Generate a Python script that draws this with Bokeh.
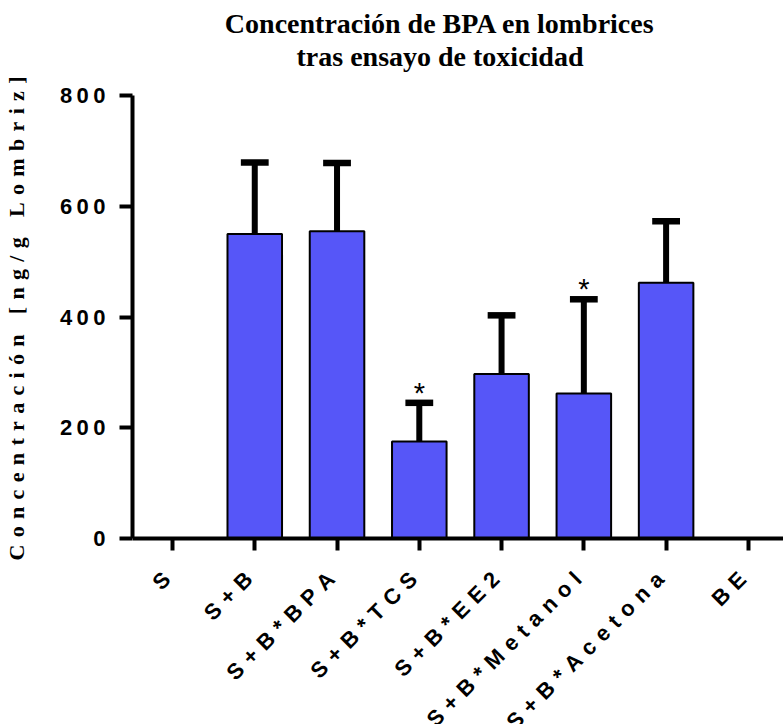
import math
from bokeh.plotting import figure
from bokeh.models import Range1d, FixedTicker, ColumnDataSource
from bokeh.embed import file_html
from bokeh.resources import INLINE
from bokeh.core.properties import value

# ---------------- data ----------------
categories = ["S", "S+B", "S+B*BPA", "S+B*TCS", "S+B*EE2", "S+B*Metanol", "S+B*Acetona", "BE"]
means = [None, 550, 555, 175, 297, 262, 462, None]
sd = [None, 129, 123, 70, 106, 170, 111, None]
significant = [False, False, False, True, False, True, False, False]
y_ticks = [0, 200, 400, 600, 800]
title_lines = ["Concentración de BPA en lombrices", "tras ensayo de toxicidad"]
y_label = "Concentración [ng/g Lombriz]"

BAR_COLOR = "#5656F8"
Y_MAX = 800


def spaced(s, gap):
    return gap.join(list(s))


xs = list(range(len(categories)))
bx = [x for x, m in zip(xs, means) if m is not None]
bm = [m for m in means if m is not None]
bs = [s for s in sd if s is not None]
bu = [m + s for m, s in zip(bm, bs)]

# frame spans the whole canvas height; x axis drawn at y=0 with fixed_location
PX_PER_UNIT = 443 / 800.0
y_end = Y_MAX + 95 / PX_PER_UNIT
y_start = -(724 - 538) / PX_PER_UNIT
x_start = (127 - 167.3) / 82.9
x_end = (783 - 167.3) / 82.9

p = figure(width=783, height=724, title=None,
           x_range=Range1d(x_start, x_end), y_range=Range1d(y_start, y_end),
           output_backend="svg", toolbar_location=None,
           min_border_left=127, min_border_right=0,
           min_border_top=0, min_border_bottom=0)
p.outline_line_color = None
p.xgrid.visible = False
p.ygrid.visible = False

src = ColumnDataSource(dict(x=bx, top=bm, upper=bu))
p.segment(x0="x", y0="top", x1="x", y1="upper", source=src,
          line_color="black", line_width=6)
cap_half = 0.169
p.segment(x0=[x - cap_half for x in bx], y0=bu, x1=[x + cap_half for x in bx], y1=bu,
          line_color="black", line_width=6.5)
p.vbar(x="x", top="top", width=0.663, bottom=0, source=src,
       fill_color=BAR_COLOR, line_color="black", line_width=2)

# significance stars
sx = [x for x, s in zip(xs, significant) if s]
sy = [means[i] + sd[i] for i in sx]
star_src = ColumnDataSource(dict(x=sx, y=sy, t=["*"] * len(sx)))
p.text(x="x", y="y", text="t", source=star_src, text_align="center",
       text_baseline="alphabetic", y_offset=-10,
       text_font=value("Liberation Sans"), text_font_size="29px", text_color="black")

# x axis at y = 0 (its own labels are replaced by the rotated labels below)
xa = p.xaxis[0]
xa.fixed_location = 0
xa.ticker = FixedTicker(ticks=xs)
xa.major_label_text_font_size = "0px"
xa.major_label_text_color = None
xa.axis_line_width = 4
xa.axis_line_color = "black"
xa.major_tick_line_width = 4
xa.major_tick_line_color = "black"
xa.major_tick_out = 12
xa.major_tick_in = 0
xa.minor_tick_out = 0
xa.minor_tick_in = 0

# category labels (rotated 45 degrees, ending under each tick)
lab_src = ColumnDataSource(dict(x=xs, y=[0] * len(xs),
                                t=[spaced(c, "\u2004") for c in categories]))
p.text(x="x", y="y", text="t", source=lab_src, angle=math.pi / 4,
       text_align="right", text_baseline="middle", x_offset=-6, y_offset=37,
       text_font=value("Liberation Sans"), text_font_style="bold",
       text_font_size="22px", text_color="black")

# title
t_src = ColumnDataSource(dict(x=[(x_start + x_end) / 2] * 2, y=[Y_MAX] * 2, t=title_lines,
                              dy=[-72, -39]))
p.text(x="x", y="y", text="t", source=t_src, y_offset="dy", x_offset=-18,
       text_align="center", text_baseline="alphabetic",
       text_font=value("Liberation Serif"), text_font_style="bold",
       text_font_size="28px", text_color="black")

# y axis
ya = p.yaxis[0]
ya.bounds = (0, Y_MAX)
ya.ticker = FixedTicker(ticks=y_ticks)
ya.major_label_overrides = {t: spaced(str(t), "\u2009") for t in y_ticks}
ya.major_label_text_font = "Liberation Sans"
ya.major_label_text_font_style = "bold"
ya.major_label_text_font_size = "22px"
ya.major_label_text_color = "black"
ya.major_label_standoff = 14
ya.axis_line_width = 4
ya.axis_line_color = "black"
ya.major_tick_line_width = 4
ya.major_tick_line_color = "black"
ya.major_tick_out = 13
ya.major_tick_in = 0
ya.minor_tick_out = 0
ya.minor_tick_in = 0
# leading em spaces lift the label so it is centred on the 0-800 part of the axis
ya.axis_label = "\u2003" * 4 + spaced(y_label, "\u2004")
ya.axis_label_text_font = "Liberation Serif"
ya.axis_label_text_font_style = "bold"
ya.axis_label_text_font_size = "22px"
ya.axis_label_text_color = "black"
ya.axis_label_standoff = 28

open("out.html", "w").write(file_html(p, INLINE))
